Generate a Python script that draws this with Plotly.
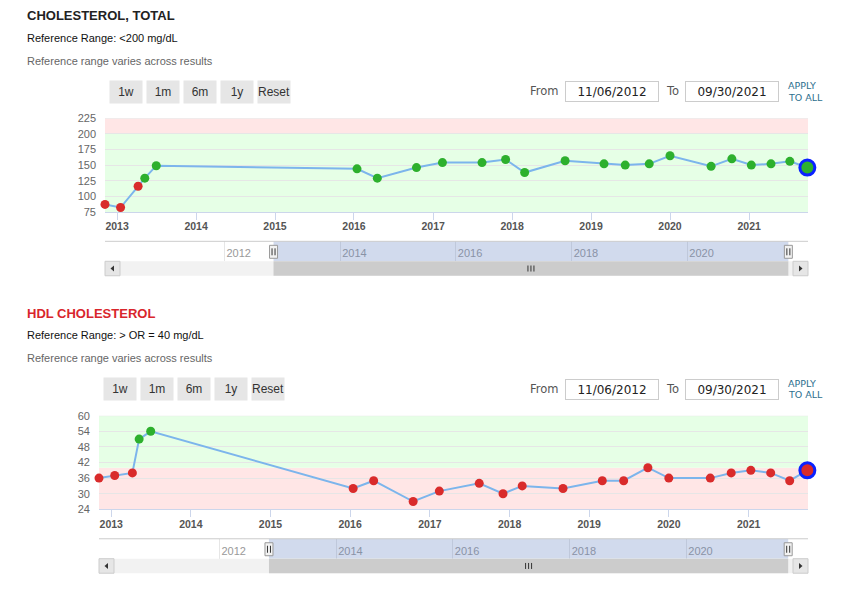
import pandas as pd
import plotly.graph_objects as go

# the page body keeps an 8px margin; the photographed page also comes out
# slightly squeezed vertically, so pixel targets are mapped back first
OFF = 8
W, H = 829, 576
SQ, SHIFT = 0.981, 5.4

# dates of the lab draws (shared by both tests)
dates = [
    "2012-11-06", "2013-01-17", "2013-04-08", "2013-05-09", "2013-07-01",
    "2016-01-15", "2016-04-18", "2016-10-16", "2017-02-13", "2017-08-15",
    "2017-12-02", "2018-02-28", "2018-09-03", "2019-03-02", "2019-06-08",
    "2019-09-27", "2020-01-01", "2020-07-09", "2020-10-13", "2021-01-11",
    "2021-04-12", "2021-07-08", "2021-09-27",
]
chol_total = [87, 82, 116, 129, 149, 144, 129, 146, 154, 154, 159, 138,
              157, 152, 150, 152, 165, 148, 160, 150, 152, 156, 146]
chol_flags = ["L", "L", "L"] + ["N"] * 20
hdl = [36, 37, 38, 51, 54, 32, 35, 27, 31, 34, 30, 33,
       32, 35, 35, 40, 36, 36, 38, 39, 38, 35, 39]
hdl_flags = ["L", "L", "L", "N", "N"] + ["L"] * 18

chol_normal, chol_high = (75, 200), (200, 225)
hdl_low, hdl_normal = (24, 40), (40, 60)

range_from, range_to = "2012-11-06", "2021-09-30"
nav_range = ["2009-12-08", "2022-02-01"]
nav_years = ["2012", "2014", "2016", "2018", "2020"]
buttons = ["1w", "1m", "6m", "1y", "Reset"]

RED, GREEN = "#d92b2b", "#2db02d"
PINK, MINT = "#ffe6e6", "#e6ffe6"


def px_x(p):
    return (p - OFF) / W


def px_y(p):
    q = (p - SHIFT) / SQ
    return 1 - (q - OFF) / H


def note(text, x, y, **kw):
    d = dict(text=text, x=px_x(x), y=px_y(y), xref="paper", yref="paper",
             yanchor="middle", showarrow=False)
    d.update(kw)
    return d


panels = [
    dict(title="CHOLESTEROL, TOTAL", title_color="#222222",
         ref="Reference Range: <200 mg/dL", values=chol_total, flags=chol_flags,
         yrange=[75, 225], dtick=25,
         bands=[(chol_normal, MINT), (chol_high, PINK)], dy=0, left=105),
    dict(title="HDL CHOLESTEROL", title_color="#d9262c",
         ref="Reference Range: > OR = 40 mg/dL", values=hdl, flags=hdl_flags,
         yrange=[24, 60], dtick=6,
         bands=[(hdl_low, PINK), (hdl_normal, MINT)], dy=298, left=99),
]

fig = go.Figure()
layout = {}
shapes, annotations = [], []

for i, p in enumerate(panels):
    dy, left = p["dy"], p["left"]
    m = "" if i == 0 else "2"
    n = str(3 + i)
    xm, ym, xn, yn = "x" + m, "y" + m, "x" + n, "y" + n
    dom = [px_x(left), px_x(808)]

    colors = [RED if f == "L" else GREEN for f in p["flags"]]
    fig.add_trace(go.Scatter(
        x=dates, y=p["values"], mode="lines+markers",
        line=dict(color="#7cb5ec", width=2),
        marker=dict(size=9, color=colors),
        xaxis=xm, yaxis=ym, cliponaxis=False, hoverinfo="skip", showlegend=False,
    ))
    fig.add_trace(go.Scatter(
        x=dates[-1:], y=p["values"][-1:], mode="markers",
        marker=dict(size=15, color=colors[-1], line=dict(color="#0a22ff", width=3)),
        xaxis=xm, yaxis=ym, cliponaxis=False, hoverinfo="skip", showlegend=False,
    ))
    fig.add_trace(go.Scatter(x=[], y=[], xaxis=xn, yaxis=yn, showlegend=False))

    layout["xaxis" + m] = dict(
        domain=dom, anchor=ym, type="date", range=[range_from, range_to],
        tick0="2013-01-01", dtick="M12", tickformat="%Y",
        ticks="outside", ticklen=7, tickcolor="#ccd6eb",
        showline=True, linecolor="#ccd6eb", linewidth=1,
        showgrid=False, zeroline=False, fixedrange=True,
        tickfont=dict(size=10.5, color="#555555", weight="bold"),
        ticklabelstandoff=-2,
    )
    layout["yaxis" + m] = dict(
        domain=[px_y(211.5 + dy), px_y(117.7 + dy)], anchor=xm,
        range=p["yrange"], tick0=p["yrange"][0], dtick=p["dtick"],
        showgrid=True, gridcolor="#e6e6e6", zeroline=False, showline=False,
        tickfont=dict(size=11, color="#666666"), ticklabelstandoff=8,
        fixedrange=True,
    )
    layout["xaxis" + n] = dict(
        domain=dom, anchor=yn, type="date", range=nav_range,
        tickvals=[y + "-01-01" for y in nav_years], ticktext=nav_years,
        ticks="", ticklabelposition="inside right",
        ticklabelstandoff=-4, ticklabelshift=2,
        showgrid=True, gridcolor="#e6e6e6", showline=False, zeroline=False,
        tickfont=dict(size=11, color="#999999"), fixedrange=True,
    )
    layout["yaxis" + n] = dict(
        domain=[px_y(261 + dy), px_y(241 + dy)], anchor=xn, range=[0, 1],
        visible=False, fixedrange=True,
    )

    # reference bands
    for (lo, hi), col in p["bands"]:
        shapes.append(dict(type="rect", xref=xm + " domain", yref=ym,
                           x0=0, x1=1, y0=lo, y1=hi, fillcolor=col,
                           line_width=0, layer="below"))
    shapes.append(dict(type="line", xref=xm + " domain", yref=ym, x0=0, x1=1,
                       y0=p["yrange"][1], y1=p["yrange"][1],
                       line=dict(color="#e6e6e6", width=1)))

    # navigator
    nt, nb = px_y(241 + dy), px_y(261 + dy)
    shapes.append(dict(type="rect", xref=xn, yref="paper", x0=range_from, x1=range_to,
                       y0=nb, y1=nt, fillcolor="rgba(102,133,194,0.3)", line_width=0))
    shapes.append(dict(type="line", xref=xn + " domain", yref="paper", x0=0, x1=1,
                       y0=nt, y1=nt, line=dict(color="#cccccc", width=1)))

    # scrollbar
    st, sb = px_y(261 + dy), px_y(275.5 + dy)
    sc = (st + sb) / 2
    shapes.append(dict(type="rect", xref=xn + " domain", yref="paper", x0=0, x1=1,
                       y0=sb, y1=st, fillcolor="#f2f2f2", line_width=0))
    shapes.append(dict(type="rect", xref=xn, yref="paper", x0=range_from, x1=range_to,
                       y0=sb, y1=st, fillcolor="#cccccc", line_width=0))
    for anchor, x0, x1, path in [(0, 0, 15, "M 9,-3 L 9,3 L 5.5,0 Z"),
                                 (1, -15, 0, "M -9,-3 L -9,3 L -5.5,0 Z")]:
        shapes.append(dict(type="rect", xref=xn + " domain", yref="paper",
                           xsizemode="pixel", xanchor=anchor, x0=x0, x1=x1,
                           y0=sb, y1=st, fillcolor="#e6e6e6",
                           line=dict(color="#cccccc", width=1)))
        shapes.append(dict(type="path", xref=xn + " domain", yref="paper",
                           xsizemode="pixel", ysizemode="pixel",
                           xanchor=anchor, yanchor=sc, path=path,
                           fillcolor="#333333", line_width=0))
    mid = pd.Timestamp(range_from) + (pd.Timestamp(range_to) - pd.Timestamp(range_from)) / 2
    for off in (-3, 0, 3):
        shapes.append(dict(type="line", xref=xn, yref="paper",
                           xsizemode="pixel", xanchor=mid, x0=off, x1=off,
                           ysizemode="pixel", yanchor=sc, y0=-3, y1=3,
                           line=dict(color="#333333", width=1)))

    # handles
    hb, ht = px_y(258 + dy), px_y(245 + dy)
    for d in (range_from, range_to):
        shapes.append(dict(type="rect", xref=xn, yref="paper", xsizemode="pixel",
                           xanchor=d, x0=-4, x1=4, y0=hb, y1=ht,
                           fillcolor="#f2f2f2", line=dict(color="#999999", width=1)))
        for off in (-1.5, 1.5):
            shapes.append(dict(type="line", xref=xn, yref="paper", xsizemode="pixel",
                               xanchor=d, x0=off, x1=off,
                               y0=px_y(255 + dy), y1=px_y(248 + dy),
                               line=dict(color="#333333", width=1)))

    # header texts
    annotations.append(note("<b>" + p["title"] + "</b>", 25, 15 + dy, xanchor="left",
                            font=dict(size=13, color=p["title_color"])))
    annotations.append(note(p["ref"], 25, 37 + dy, xanchor="left",
                            font=dict(size=11, color="#111111")))
    annotations.append(note("Reference range varies across results", 25, 60 + dy,
                            xanchor="left", font=dict(size=11, color="#666666")))

    # range buttons
    for k, b in enumerate(buttons):
        annotations.append(note(b, left + 5 + 16 + 37 * k, 91 + dy, xanchor="center",
                                width=32, height=22, bgcolor="#e6e6e6", borderpad=0,
                                font=dict(size=12, color="#333333")))

    # from / to inputs
    for t, xr in [("From", 561), ("To", 681)]:
        annotations.append(note(t, xr, 90.5 + dy, xanchor="right",
                                font=dict(family="DejaVu Sans", size=11.5, color="#555555")))
    for cx, d in [(612.3, range_from), (732.3, range_to)]:
        annotations.append(note(pd.Timestamp(d).strftime("%m/%d/%Y"), cx, 91 + dy,
                                xanchor="center", width=92, height=19, borderpad=0,
                                bordercolor="#cccccc", borderwidth=1, bgcolor="white",
                                font=dict(family="DejaVu Sans", size=12, color="#222222")))
    for t, yy in [("APPLY", 85), ("TO ALL", 96.7)]:
        annotations.append(note(t, 785.5, yy + dy, xanchor="left",
                                font=dict(family="DejaVu Sans", size=9.5, color="#2d6f8e")))

layout.update(
    width=W, height=H, margin=dict(l=0, r=0, t=0, b=0),
    paper_bgcolor="white", plot_bgcolor="white", showlegend=False,
    font=dict(family="Liberation Sans, Arial, sans-serif"),
    shapes=shapes, annotations=annotations,
)
fig.update_layout(**layout)
fig.write_html("out.html", config={"displayModeBar": False})
